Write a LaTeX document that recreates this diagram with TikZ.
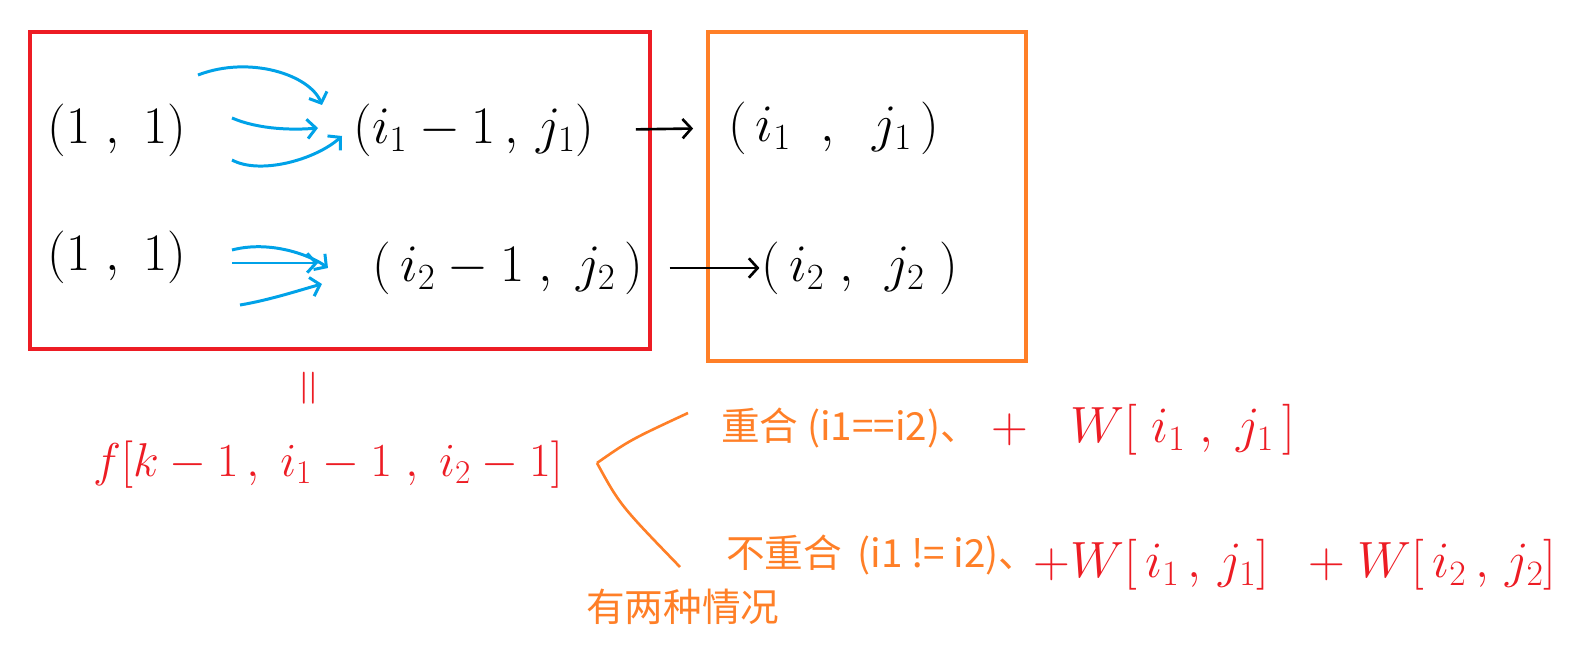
\RequirePackage{fix-cm}
\documentclass[tikz,border=0pt]{standalone}
\usepackage{fontspec}
\usepackage{amsmath}
\usepackage{tikz}
\usetikzlibrary{arrows.meta,calc,positioning}
\newfontfamily\cjk{Noto Sans CJK SC}
\definecolor{boxred}{HTML}{ED1C24}
\definecolor{boxorange}{HTML}{FF7F27}
\definecolor{pathblue}{HTML}{00A2E8}

\begin{document}
\begin{tikzpicture}[x=0.02cm,y=-0.02cm,>={Straight Barb[length=5pt,width=11pt]},line width=1.5pt]
      \tikzstyle{cell}=[inner sep=0pt,font=\fontsize{30}{34}\selectfont]
      \tikzstyle{redtext}=[inner sep=0pt,text=boxred,font=\fontsize{29}{34}\selectfont]
      \tikzstyle{case}=[inner sep=0pt,anchor=west,text=boxorange,font=\cjk\fontsize{22}{26}\selectfont]
      \tikzstyle{walk}=[->,draw=pathblue,line width=1.7pt]
      \useasboundingbox (0,0) rectangle (1576,645);
      % the two regions
      \draw[boxred,line width=2.8pt] (30,32) rectangle (650,349);
      \draw[boxorange,line width=2.8pt] (708,32) rectangle (1026,361);
      % first path
      \node[cell] (s1) at (117,130) {$(1\;,\;1)$};
      \node[cell] (p1) at (474,130) {$(i_1-1\,,\,j_1)$};
      \node[cell] (q1) at (834,128) {$(\,i_1\;\;,\;\;j_1\,)$};
      \draw[walk] (198,75) .. controls (250,55) and (310,75) .. (322,105);
      \draw[walk] (232,118) .. controls (260,130) and (295,130) .. (318,128);
      \draw[walk] (232,160) .. controls (260,175) and (315,160) .. (342,136);
      \draw[->,shorten <=0.8cm,shorten >=0.68cm] (p1.east) -- (q1.west);
      % second path
      \node[cell] (s2) at (117,257) {$(1\;,\;1)$};
      \node[cell] (p2) at (508,268) {$(\,i_2-1\;,\;j_2\,)$};
      \node[cell] (q2) at (860,268) {$(\,i_2\;,\;\,j_2\;)$};
      \draw[walk] (232,250) .. controls (270,240) and (310,255) .. (328,268);
      \draw[walk] (232,263) -- (318,263);
      \draw[walk] (240,305) .. controls (270,300) and (300,290) .. (322,284);
      \draw[->,shorten <=0.5cm,shorten >=0.02cm] (p2.east) -- (q2.west);
      % state before the step
      \node[redtext,rotate=90] (same) at (312,388) {$=$};
      \node[redtext,font=\fontsize{27}{32}\selectfont] (prev) at (328,465) {$f[k-1\,,\;i_1-1\;,\;i_2-1]$};
      \coordinate (fork) at (597,463);
      \coordinate (up) at (688,413);
      \coordinate (down) at (680,567);
      \draw[boxorange] (fork) .. controls (630,440) .. (up);
      \draw[boxorange] (fork) .. controls (620,505) .. (down);
      \node[case] (meet) at (720,428) {重合 (i1==i2)、};
      \node[redtext,anchor=west] (w1) at (990,430) {$+\;\;\;W[\;i_1\;,\;j_1\,]$};
      \node[case] (apart) at (725,555) {不重合\, (i1 != i2)、};
      \node[redtext,anchor=west] (w2) at (1032,565) {$+W[\,i_1\,,\,j_1]\;\;+W[\,i_2\,,\,j_2]$};
      \node[case] (note) at (585,607) {有两种情况};
    \end{tikzpicture}
\end{document}
